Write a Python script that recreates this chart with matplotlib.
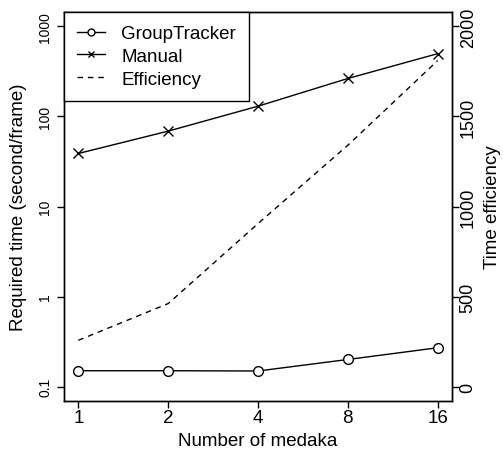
import numpy as np
import matplotlib
matplotlib.use("Agg")
import matplotlib.pyplot as plt
from matplotlib.lines import Line2D

plt.rcParams['font.family'] = ['Liberation Sans', 'DejaVu Sans']
plt.rcParams['font.size'] = 13.5

# number of fish per video
medaka = [1, 2, 4, 8, 16]
# seconds needed per frame
group_tracker = [0.15, 0.15, 0.149, 0.2, 0.27]
manual = [38.8, 68.7, 130, 264, 498]
# manual / automatic speed-up
efficiency = [257, 461, 905, 1340, 1810]

DASH = (0, (4, 3.5))

W, H = 503, 452
fig = plt.figure(figsize=(W / 100, H / 100), dpi=100)
ax = fig.add_axes([64 / W, 50 / H, (452 - 64) / W, (402 - 13) / H])

ax.plot(medaka, group_tracker, color='black', lw=1.0, marker='o', ms=7,
        mfc='white', mec='black', mew=1.0)
ax.plot(medaka, manual, color='black', lw=1.0, marker='x', ms=7, mew=1.0)

ax.set_xscale('log', base=2)
ax.set_yscale('log')
ax.set_xlim(2 ** -0.16, 2 ** 4.16)
ax.set_ylim(10 ** -1.16, 10 ** 3.16)
ax.set_xticks(medaka)
ax.set_xticklabels([str(m) for m in medaka])
ax.minorticks_off()
ax.set_yticks([0.1, 1, 10, 100, 1000])
ax.set_yticklabels(['0.1', '1', '10', '100', '1000'], rotation=90, va='center')
ax.tick_params(axis='x', direction='out', length=5, width=1.0, labelsize=13.5, pad=1)
ax.tick_params(axis='y', direction='out', length=5, width=1.0, labelsize=10, pad=3.5)
ax.set_xlabel('Number of medaka', fontsize=13.5, va='center')
ax.xaxis.set_label_coords(0.5, (402 - 442) / 389)
ax.set_ylabel('Required time (second/frame)', fontsize=13.5, va='center')
ax.yaxis.set_label_coords((19 - 64) / 388, 0.5)

ax2 = ax.twinx()
ax2.plot(medaka, efficiency, color='black', lw=1.0, ls=DASH)
ax2.set_ylim(-80, 2080)
ax2.set_yticks([0, 500, 1000, 1500, 2000])
ax2.set_yticklabels(['0', '500', '1000', '1500', '2000'], rotation=90, va='center')
ax2.tick_params(direction='out', length=5, width=1.0, labelsize=13, pad=0.5)
ax2.set_ylabel('Time efficiency', fontsize=13.5, va='center')
ax2.yaxis.set_label_coords((493 - 64) / 388, 0.5)

for a in (ax, ax2):
    for s in a.spines.values():
        s.set_linewidth(1.0)

handles = [
    Line2D([], [], color='black', lw=1.0, marker='o', ms=5, mfc='white', mew=1.0),
    Line2D([], [], color='black', lw=1.0, marker='x', ms=5, mew=1.0),
    Line2D([], [], color='black', lw=1.0, ls=DASH),
]
leg = ax2.legend(handles, ['GroupTracker', 'Manual', 'Efficiency'],
                 loc='upper left', bbox_to_anchor=(0, 1), borderaxespad=0,
                 fancybox=False, framealpha=1, edgecolor='black',
                 handlelength=1.5, handletextpad=0.85, labelspacing=0.3,
                 borderpad=0.7, fontsize=13.5)
leg.get_frame().set_linewidth(1.0)

fig.savefig('out.png', dpi=100)
